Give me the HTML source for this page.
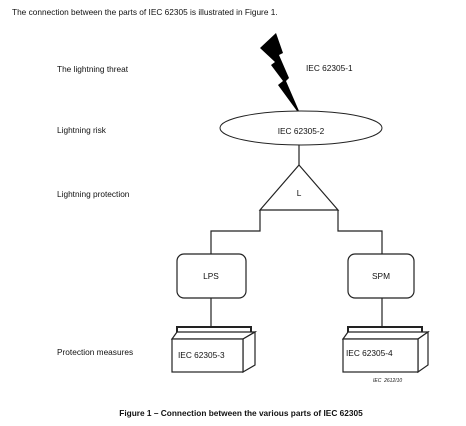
<!DOCTYPE html>
<html><head><meta charset="utf-8"><style>
html,body{margin:0;padding:0;background:#fff;}
svg{display:block;}
text{font-family:"Liberation Sans",Arial,sans-serif;fill:#111;}
</style></head><body>
<svg width="466" height="426" viewBox="0 0 466 426" xmlns="http://www.w3.org/2000/svg">
<text x="12" y="15" font-size="8.3">The connection between the parts of IEC 62305 is illustrated in Figure 1.</text>
<text x="57" y="72" font-size="8.3">The lightning threat</text>
<text x="57" y="133" font-size="8.3">Lightning risk</text>
<text x="57" y="197" font-size="8.3">Lightning protection</text>
<text x="57" y="355" font-size="8.3">Protection measures</text>
<text x="306" y="71" font-size="8.3">IEC 62305-1</text>
<polygon points="260,48 276,33 283,53 279,55 289,78 286,81 299,111 297,111 278,85 283,81 271,65 275,62" fill="#000"/>
<ellipse cx="301" cy="128" rx="81" ry="17" fill="#fff" stroke="#222" stroke-width="1"/>
<text x="301" y="134" font-size="8.3" text-anchor="middle">IEC 62305-2</text>
<g stroke="#222" stroke-width="1.2" fill="none">
<line x1="299" y1="145" x2="299" y2="165"/>
<polygon points="299,165 260,210 338,210" fill="#fff"/>
<polyline points="260,210 260,231 211,231 211,254"/>
<polyline points="338,210 338,231 382,231 382,254"/>
<rect x="177" y="254" width="69" height="44" rx="7" fill="#fff"/>
<rect x="348" y="254" width="66" height="44" rx="7" fill="#fff"/>
<line x1="211" y1="298" x2="211" y2="327"/>
<line x1="382" y1="298" x2="382" y2="327"/>
<polyline points="177,336 177,327 251,327 251,336" stroke-width="2"/>
<polygon points="172,339 177,332 255,332 243,339" fill="#fff"/>
<polygon points="243,339 255,332 255,365 243,372" fill="#fff"/>
<rect x="172" y="339" width="71" height="33" fill="#fff"/>
<polyline points="348,336 348,327 422,327 422,336" stroke-width="2"/>
<polygon points="343,339 348,332 428,332 418,339" fill="#fff"/>
<polygon points="418,339 428,332 428,365 418,372" fill="#fff"/>
<rect x="343" y="339" width="75" height="33" fill="#fff"/>
</g>
<text x="299" y="196" font-size="8.3" text-anchor="middle">L</text>
<text x="211" y="279" font-size="8.3" text-anchor="middle">LPS</text>
<text x="381" y="279" font-size="8.3" text-anchor="middle">SPM</text>
<text x="178" y="358" font-size="8.3">IEC 62305-3</text>
<text x="346" y="356" font-size="8.3">IEC 62305-4</text>
<text x="373" y="382" font-size="5" font-style="italic">IEC&#160;&#160;2612/10</text>
<text x="241" y="416" font-size="8.3" font-weight="bold" text-anchor="middle">Figure 1 – Connection between the various parts of IEC 62305</text>
</svg>
</body></html>
